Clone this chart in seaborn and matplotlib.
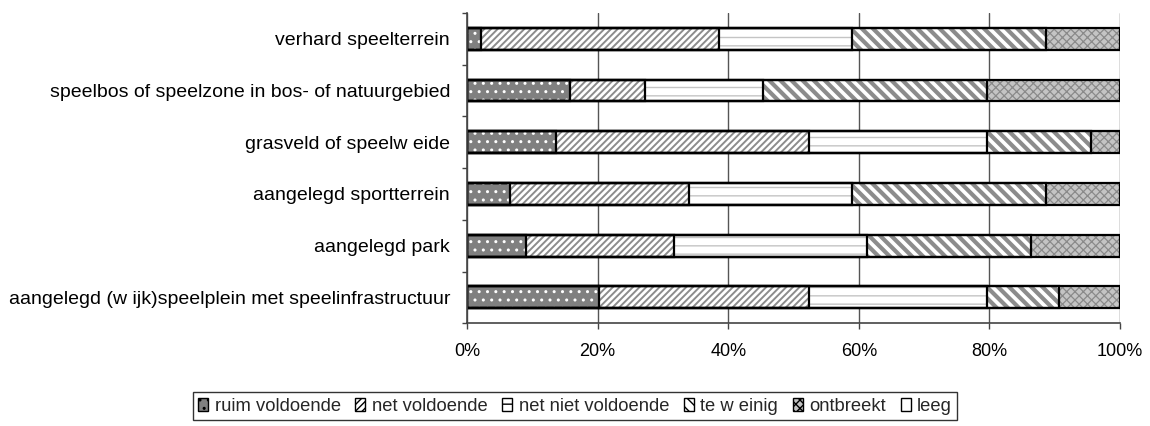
import numpy as np
import matplotlib.pyplot as plt
import seaborn as sns
from matplotlib.patches import Patch
from matplotlib.ticker import FixedLocator, PercentFormatter

categories = [
    "verhard speelterrein",
    "speelbos of speelzone in bos- of natuurgebied",
    "grasveld of speelw eide",
    "aangelegd sportterrein",
    "aangelegd park",
    "aangelegd (w ijk)speelplein met speelinfrastructuur",
]
ruim_voldoende = [2.1, 15.8, 13.6, 6.6, 9.1, 20.2]
net_voldoende = [36.5, 11.5, 38.8, 27.4, 22.6, 32.2]
net_niet_voldoende = [20.4, 18.1, 27.3, 25.0, 29.5, 27.3]
te_weinig = [29.6, 34.3, 15.9, 29.6, 25.1, 11.0]
ontbreekt = [11.4, 20.3, 4.4, 11.4, 13.7, 9.3]
leeg = [0, 0, 0, 0, 0, 0]
series_names = ["ruim voldoende", "net voldoende", "net niet voldoende",
                "te w einig", "ontbreekt", "leeg"]
x_ticks = [0, 20, 40, 60, 80, 100]

# face colour, hatch, hatch colour, hatch linewidth
styles = [
    ("#808080", "..", "white", 1.0),
    ("white", "/////", "#8c8c8c", 1.4),
    ("white", "--", "#c4c4c4", 1.0),
    ("white", "\\\\\\", "#8c8c8c", 3.0),
    ("#c4c4c4", "xxxx", "#8a8a8a", 0.9),
    ("white", "", "black", 1.0),
]

sns.set_theme(style="white")
plt.rcParams["font.family"] = ["Liberation Sans", "DejaVu Sans"]
plt.rcParams["font.size"] = 13

series = [ruim_voldoende, net_voldoende, net_niet_voldoende, te_weinig, ontbreekt, leeg]
cum = np.cumsum(np.array(series), axis=0)

fig = plt.figure(figsize=(11.5, 4.26), dpi=100)
ax = fig.add_axes([0.4061, 0.2413, 0.5678, 0.7282])
ax.set_axisbelow(True)


def style_patch(p, hatch, hcolor, hlw):
    p.set_hatch(hatch)
    if hasattr(p, "set_hatchcolor"):
        p.set_hatchcolor(hcolor)
        p.set_edgecolor("none")
    else:
        p.set_edgecolor(hcolor)
    p.set_linewidth(0)
    if hasattr(p, "set_hatch_linewidth"):
        p.set_hatch_linewidth(hlw)


n = len(categories)
# stacked: draw cumulative totals from the largest down
for i in reversed(range(len(series))):
    face, hatch, hcolor, hlw = styles[i]
    sns.barplot(x=cum[i], y=categories, orient="h", color=face, saturation=1,
                width=0.42, linewidth=0, ax=ax)
    for p in ax.patches[-n:]:
        style_patch(p, hatch, hcolor, hlw)

# black outlines of the segments
for i in range(len(series) - 1):
    sns.barplot(x=cum[i], y=categories, orient="h", color="white", saturation=1,
                width=0.42, ax=ax)
    for p in ax.patches[-n:]:
        p.set_facecolor("none")
        p.set_edgecolor("black")
        p.set_linewidth(1.6)

ax.set_xlim(0, 100)
ax.set_ylim(n - 0.5, -0.5)
ax.set_xlabel("")
ax.set_ylabel("")
ax.xaxis.set_major_locator(FixedLocator(x_ticks))
ax.xaxis.set_major_formatter(PercentFormatter(decimals=0))
ax.xaxis.grid(True, color="#555555", linewidth=1)
ax.yaxis.grid(False)

for s in ["top", "right"]:
    ax.spines[s].set_visible(False)
for s in ["left", "bottom"]:
    ax.spines[s].set_color("#444444")
    ax.spines[s].set_linewidth(1.2)

ax.tick_params(axis="x", which="major", direction="out", length=4.3, width=1,
               color="#444444", pad=10, labelsize=13, labelcolor="black", bottom=True)
ax.tick_params(axis="y", which="major", length=0, pad=12.2, labelsize=14, labelcolor="black")
ax.yaxis.set_minor_locator(FixedLocator(np.arange(-0.5, n, 1.0)))
ax.tick_params(axis="y", which="minor", direction="out", length=3.6, width=1,
               color="#444444", left=True)

handles = []
for name, (face, hatch, hcolor, hlw) in zip(series_names, styles):
    handles.append(Patch(facecolor=face, edgecolor="black", hatch=hatch, linewidth=1,
                         label=name))
leg = fig.legend(handles=handles, loc="upper center", bbox_to_anchor=(0.5, 0.0798),
                 ncol=6, frameon=True, fancybox=False, edgecolor="black",
                 handlelength=0.55, handleheight=0.7, handletextpad=0.35,
                 columnspacing=0.8, borderpad=0.3, borderaxespad=0, fontsize=13.2)
leg.get_frame().set_linewidth(1)
for p, (face, hatch, hcolor, hlw) in zip(leg.get_patches(), styles):
    if hasattr(p, "set_hatchcolor") and hatch:
        p.set_hatchcolor(hcolor)

fig.savefig("out.png", dpi=100)
